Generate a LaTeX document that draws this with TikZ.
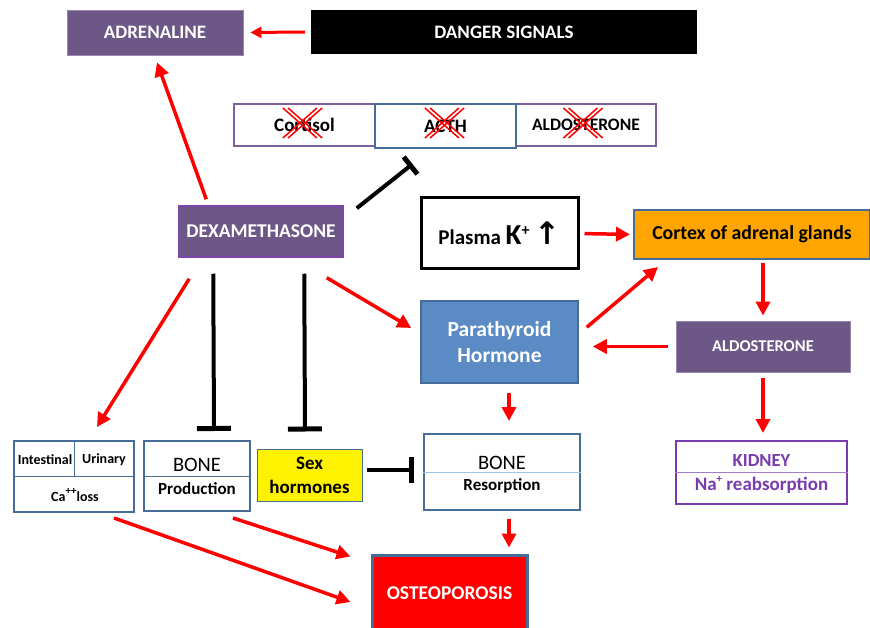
\documentclass[tikz,border=0pt]{standalone}
\usepackage{fontspec}
\setmainfont{Carlito}
\newfontfamily\dejavu{DejaVu Sans}
\usetikzlibrary{arrows.meta,calc}
\definecolor{pfill}{RGB}{108,87,135}
\definecolor{plight}{RGB}{150,135,175}
\definecolor{pborder}{RGB}{125,95,155}
\definecolor{dexb}{RGB}{125,70,170}
\definecolor{blueb}{RGB}{70,108,152}
\definecolor{lightblue}{RGB}{157,195,230}
\definecolor{pthfill}{RGB}{90,139,196}
\definecolor{kidp}{RGB}{120,60,175}
\definecolor{kidline}{RGB}{165,125,205}
\definecolor{orng}{RGB}{255,165,0}
\newcommand{\sups}[1]{\raisebox{0.45em}{\fontsize{11}{11}\selectfont #1}}
\tikzset{
  box/.style={rectangle, inner sep=0pt, anchor=center, align=center,
    font=\bfseries\fontsize{19}{23}\selectfont},
  whitebox/.style={box, text=white},
  lbl/.style={inner sep=0pt, anchor=center, align=center},
  redarr/.style={draw=red, line width=3.5pt, -{Triangle[length=14pt,width=14pt]}},
  tbar/.style={draw=black, line width=4pt, -{Bar[width=34pt,line width=5pt]}},
  xcross/.pic={
    \foreach \s in {-2.6,2.6}{
      \draw[red, line width=1.5pt] (-17+\s,-15) -- (17+\s,15);
      \draw[red, line width=1.5pt] (-17+\s,15) -- (17+\s,-15);
    }
  }
}
\begin{document}
\begin{tikzpicture}[x=1pt,y=-1pt]
\useasboundingbox[fill=white] (0,0) rectangle (870,628);
\clip (0,0) rectangle (870,628);

% top row
\node[whitebox, fill=pfill, draw=plight, line width=0.8pt, minimum width=176pt, minimum height=45pt] (adr) at (155,32.5) {ADRENALINE};
\node[whitebox, fill=black, minimum width=386pt, minimum height=44pt] (danger) at (504,32) {DANGER SIGNALS};

% cortisol / ACTH / aldosterone row
\node[box, draw=pborder, line width=2pt, minimum width=141pt, minimum height=42pt] (cort) at (304.5,125) {Cortisol};
\node[box, draw=pborder, line width=2pt, minimum width=140pt, minimum height=42pt, font=\bfseries\fontsize{17.5}{20}\selectfont] (aldoa) at (586,125) {ALDOSTERONE};
\node[box, draw=blueb, line width=2pt, minimum width=141pt, minimum height=44pt] (acth) at (445.5,126) {ACTH};
\pic at ($(cort.center)+(-2,-2)$) {xcross};
\pic at ($(acth.center)+(-1,-3)$) {xcross};
\pic at ($(aldoa.center)+(-3,-2)$) {xcross};

% middle
\node[whitebox, fill=pfill, draw=dexb, line width=1.5pt, minimum width=164pt, minimum height=51pt,
  font=\bfseries\fontsize{19.5}{23}\selectfont] (dexa) at (261,231.5) {DEXAMETHASONE};
\node[box, draw=black, line width=3pt, minimum width=157pt, minimum height=71pt, font=\bfseries\fontsize{21}{24}\selectfont] (plasma) at (499.5,233.5)
  {Plasma {\fontsize{29}{29}\selectfont K}\sups{\fontsize{16}{16}\selectfont +}\hspace{5pt}{\dejavu\fontsize{31}{31}\selectfont ↑}};
\node[box, fill=orng, draw=blueb, line width=2pt, minimum width=236pt, minimum height=49pt,
  font=\bfseries\fontsize{19.8}{23}\selectfont] (cortex) at (752,234.5) {Cortex of adrenal glands};
\node[whitebox, fill=pthfill, draw=blueb, line width=1.5pt, minimum width=157pt, minimum height=82pt,
  font=\bfseries\fontsize{21.5}{26}\selectfont] (pth) at (499.5,342) {Parathyroid\\Hormone};
\node[whitebox, fill=pfill, draw=plight, line width=0.8pt, minimum width=174pt, minimum height=51pt,
  font=\bfseries\fontsize{16.5}{20}\selectfont] (aldob) at (763,346.5) {ALDOSTERONE};

% bottom row
\node[box, draw=blueb, line width=2pt, minimum width=120pt, minimum height=71pt] (ica) at (74,476.5) {};
\draw[blueb, line width=1pt] ($(ica.north west)+(0,36)$) -- ($(ica.north east)+(0,36)$);
\draw[blueb, line width=1pt] (ica.north) -- ($(ica.north)+(0,36)$);
\node[lbl, font=\bfseries\fontsize{14}{16}\selectfont] (intest) at (45,460) {Intestinal};
\node[lbl, font=\bfseries\fontsize{14}{16}\selectfont] (urin) at (104,460) {Urinary};
\node[lbl, font=\bfseries\fontsize{14}{16}\selectfont] (caloss) at (75,495) {Ca\sups{++}loss};

\node[box, draw=blueb, line width=2pt, minimum width=106pt, minimum height=70pt] (bprod) at (197,476) {};
\draw[blueb, line width=1pt] ($(bprod.north west)+(0,36)$) -- ($(bprod.north east)+(0,36)$);
\node[lbl, font=\fontsize{20.5}{22}\selectfont] (bonea) at (197,465) {BONE};
\node[lbl, font=\bfseries\fontsize{17}{19}\selectfont] (prodt) at (197,489) {Production};

\node[box, fill=yellow, draw=blueb, line width=1pt, minimum width=105pt, minimum height=52pt,
  font=\bfseries\fontsize{19}{24}\selectfont] (sex) at (309.5,475) {Sex\\hormones};

\node[box, draw=blueb, line width=2pt, minimum width=156pt, minimum height=76pt] (bres) at (502,472) {};
\draw[lightblue, line width=1pt] (bres.west) -- (bres.east);
\node[lbl, font=\fontsize{20.5}{22}\selectfont] (boneb) at (502,463) {BONE};
\node[lbl, font=\bfseries\fontsize{17}{19}\selectfont] (rest) at (502,486) {Resorption};

\node[box, draw=kidp, line width=2pt, minimum width=171pt, minimum height=63pt] (kidney) at (761.5,472.5) {};
\draw[kidline, line width=1pt] (kidney.west) -- (kidney.east);
\node[lbl, text=kidp, font=\bfseries\fontsize{18.5}{20}\selectfont] (kidt) at (761.5,461) {KIDNEY};
\node[lbl, text=kidp, font=\bfseries\fontsize{19}{20}\selectfont] (nat) at (761.5,485) {Na\sups{+} reabsorption};

\node[whitebox, fill=red, draw=blueb, line width=3pt, minimum width=155pt, minimum height=76pt,
  font=\bfseries\fontsize{19.5}{23}\selectfont] (osteo) at (449.5,593) {OSTEOPOROSIS};

% connectors
\draw[draw=red, line width=3pt, -{Triangle[length=11pt,width=11pt]}, shorten <=6pt, shorten >=7pt] (danger.west) -- (adr.east);
\draw[redarr] ($(dexa.north west)+(28,-6)$) -- ($(adr.south)+(2,7)$);
\draw[draw=black, line width=4pt, -{Bar[width=22pt,line width=5pt]}] ($(dexa.north east)+(13,3)$) -- ($(acth.south)+(-33,15)$);
\draw[redarr, shorten <=5pt, shorten >=3pt] (plasma.east) -- (cortex.west);
\draw[redarr] ($(cortex.south)+(11,3)$) -- ($(aldob.north)+(0,-5)$);
\draw[redarr, shorten <=8pt, shorten >=14pt] (aldob.west) -- (aldob.west -| pth.east);
\draw[redarr] ($(pth.north east)+(8,27)$) -- ($(cortex.south west)+(25,7)$);
\draw[redarr] ($(dexa.south east)+(-17,20)$) -- ($(pth.west)+(-9,-14)$);
\draw[redarr] ($(dexa.south west)+(11,21)$) -- ($(ica.north)+(23,-13)$);
\draw[tbar] ($(dexa.south west)+(35,16)$) -- ($(bprod.north)+(17,-9)$);
\draw[tbar] ($(dexa.south west)+(126,16)$) -- ($(sex.north)+(-4.5,-17)$);
\draw[draw=black, line width=4pt, -{Bar[width=26pt,line width=5pt]}] ($(sex.east)+(4,-5)$) -- ($(bres.west)+(-9,-2)$);
\draw[redarr] ($(pth.south)+(9.5,9)$) -- ($(bres.north)+(7,-12)$);
\draw[redarr] ($(aldob.south)+(0,6)$) -- ($(kidney.north)+(1.5,-7)$);
\draw[redarr] ($(bres.south)+(7,8)$) -- ($(osteo.north)+(59.5,-6)$);
\draw[redarr] ($(ica.south)+(40,5)$) -- ($(osteo.west)+(-20,9)$);
\draw[redarr] ($(bprod.south)+(36,6)$) -- ($(osteo.north west)+(-20,3)$);
\end{tikzpicture}
\end{document}
